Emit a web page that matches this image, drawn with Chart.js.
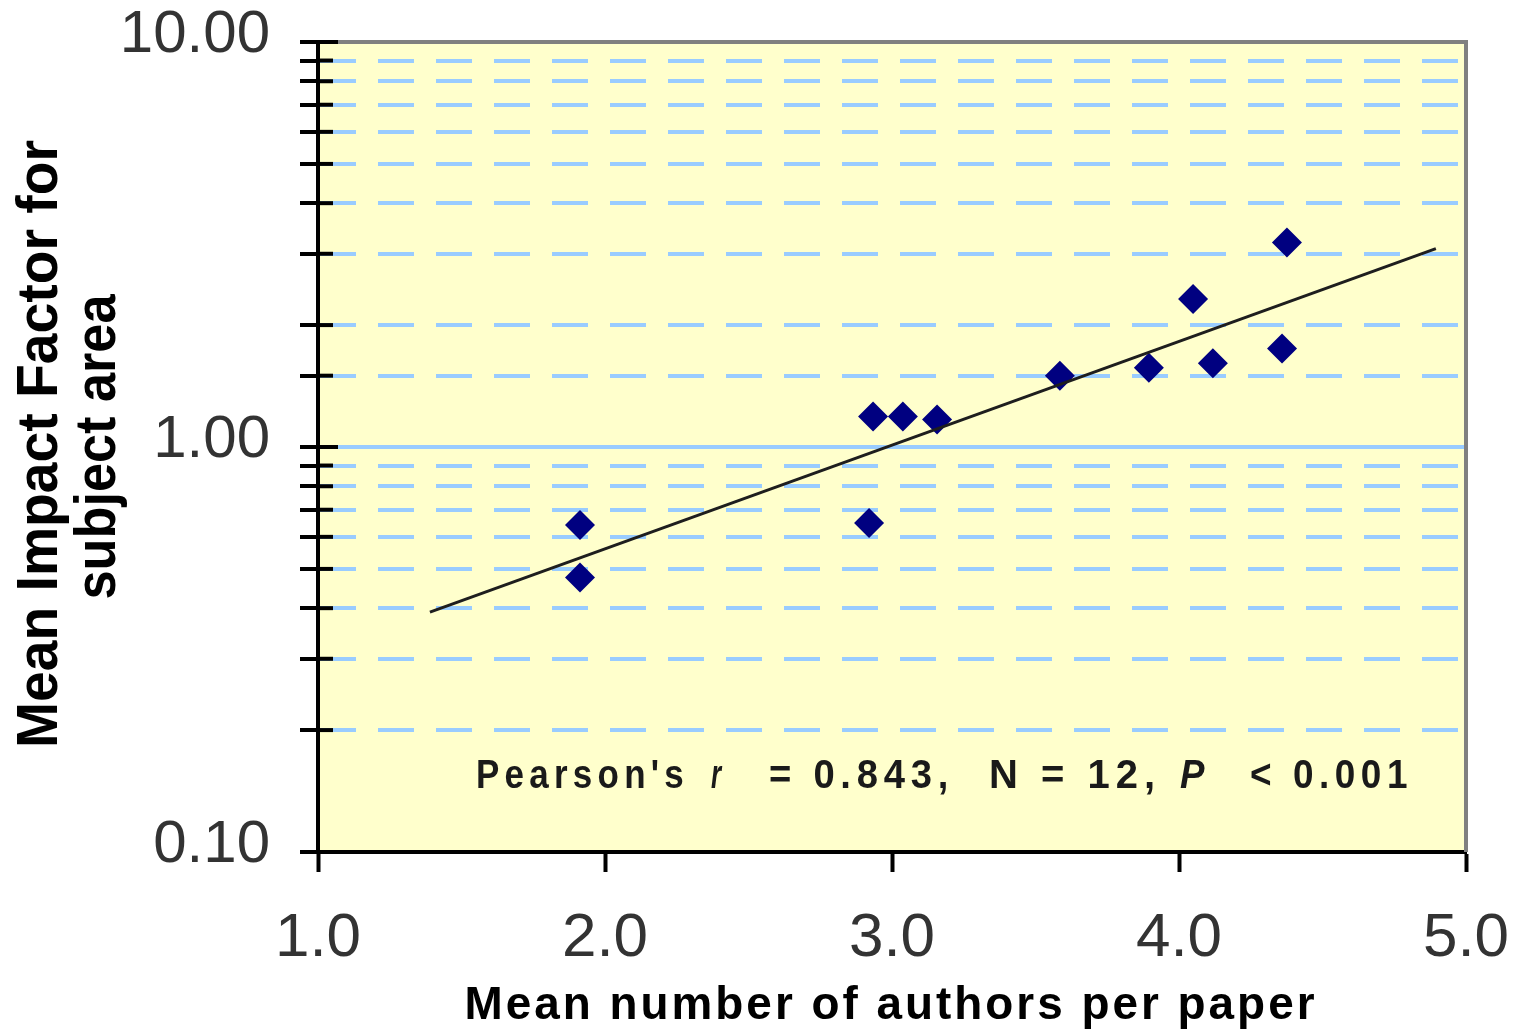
<!DOCTYPE html>
<html>
<head>
<meta charset="utf-8">
<script src="https://cdn.jsdelivr.net/npm/chart.js@4.4.1/dist/chart.umd.min.js"></script>
<style>
  html, body { margin: 0; padding: 0; background: #ffffff; }
  #wrap { width: 1520px; height: 1031px; position: relative; }
</style>
</head>
<body>
<div id="wrap"><canvas id="impactChart"></canvas></div>
<script>
// authors per paper vs mean impact factor, one point per subject area
var authorsPerPaper = [1.913, 1.913, 2.920, 2.934, 3.038, 3.157, 3.585, 3.895, 4.049, 4.118, 4.359, 4.376];
var impactFactor    = [0.642, 0.476, 0.649, 1.19, 1.19, 1.17, 1.50, 1.57, 2.32, 1.61, 1.75, 3.20];

// exponential trend line (straight on the log axis), ends as drawn
var trendX = [1.390, 4.895];
var trendY = [0.391, 3.09];

var xTicks = [1, 2, 3, 4, 5];
var yLabelled = [0.1, 1, 10];
var xTitle = "Mean number of authors per paper";
var yTitle = ["Mean Impact Factor for", "subject area"];
var statsText = ["Pearson's ", "r", "= 0.843,", "N = 12,", "P", "< 0.001"];

function isDecade(v) {
    var l = Math.log10(v);
    return Math.abs(l - Math.round(l)) < 1e-6;
}

var chartDecor = {
    id: "chartDecor",
    beforeDraw: function (chart) {
        var a = chart.chartArea, ctx = chart.ctx;
        ctx.save();
        ctx.fillStyle = "#ffffcc";
        ctx.fillRect(a.left, a.top, a.right - a.left, a.bottom - a.top);
        ctx.restore();
    },
    beforeDatasetsDraw: function (chart) {
        var a = chart.chartArea, ctx = chart.ctx, y = chart.scales.y;
        ctx.save();
        // solid line at 1.00
        var p1 = y.getPixelForValue(1);
        ctx.strokeStyle = "#99ccff";
        ctx.lineWidth = 4;
        ctx.beginPath();
        ctx.moveTo(a.left, p1);
        ctx.lineTo(a.right, p1);
        ctx.stroke();
        // grey frame top and right
        ctx.strokeStyle = "#808080";
        ctx.lineWidth = 4;
        ctx.beginPath();
        ctx.moveTo(a.left, a.top);
        ctx.lineTo(a.right, a.top);
        ctx.lineTo(a.right, a.bottom);
        ctx.stroke();
        // tick marks crossing into the plot
        ctx.strokeStyle = "#000000";
        y.ticks.forEach(function (t) {
            var py = y.getPixelForValue(t.value);
            ctx.beginPath();
            ctx.moveTo(a.left, py);
            ctx.lineTo(a.left + (isDecade(t.value) ? 20 : 15), py);
            ctx.stroke();
        });
        ctx.restore();
    },
    afterDraw: function (chart) {
        var ctx = chart.ctx;
        ctx.save();
        ctx.fillStyle = "#000000";
        ctx.textAlign = "center";
        ctx.textBaseline = "alphabetic";

        // y title, two rotated lines
        ctx.font = "bold 58px 'Liberation Sans', Arial, sans-serif";
        ctx.save();
        ctx.translate(57, 444);
        ctx.rotate(-Math.PI / 2);
        ctx.fillText(yTitle[0], 0, 0, 608);
        ctx.restore();
        ctx.save();
        ctx.translate(115, 447);
        ctx.rotate(-Math.PI / 2);
        ctx.fillText(yTitle[1], 0, 0, 305);
        ctx.restore();

        // x title
        ctx.font = "bold 46px 'Liberation Sans', Arial, sans-serif";
        ctx.letterSpacing = "3px";
        ctx.fillText(xTitle, 891, 1019, 853);

        // stats note
        ctx.textAlign = "left";
        ctx.fillStyle = "#1a1a1a";
        ctx.letterSpacing = "6px";
        var starts = [476, 711, 769, 989, 1180, 1250];
        var widths = [213, 14, 185, 183, 30, 163];
        statsText.forEach(function (s, i) {
            var italic = (i === 1 || i === 4);
            ctx.font = (italic ? "italic " : "") + "bold 40px 'Liberation Sans', Arial, sans-serif";
            ctx.fillText(s.trim(), starts[i], 788, widths[i]);
        });
        ctx.restore();
    }
};

var ctx = document.getElementById("impactChart").getContext("2d");
new Chart(ctx, {
    type: "scatter",
    data: {
        datasets: [
            {
                label: "Trend",
                data: trendX.map(function (x, i) { return { x: x, y: trendY[i] }; }),
                showLine: true,
                borderColor: "#1e1e1e",
                borderWidth: 3,
                pointRadius: 0,
                order: 0
            },
            {
                label: "Subject areas",
                data: authorsPerPaper.map(function (x, i) { return { x: x, y: impactFactor[i] }; }),
                pointStyle: "rectRot",
                pointRadius: 15,
                pointHoverRadius: 15,
                backgroundColor: "#000080",
                borderWidth: 0,
                order: 1
            }
        ]
    },
    options: {
        responsive: true,
        maintainAspectRatio: false,
        animation: false,
        layout: { padding: { top: 42, right: 54, left: 0, bottom: 0 } },
        plugins: {
            legend: { display: false },
            tooltip: { enabled: false }
        },
        scales: {
            x: {
                type: "linear",
                min: xTicks[0],
                max: xTicks[xTicks.length - 1],
                afterBuildTicks: function (scale) {
                    scale.ticks = xTicks.map(function (v) { return { value: v }; });
                },
                afterFit: function (scale) {
                    scale.height = 179;
                    scale.paddingLeft = 0;
                    scale.paddingRight = 0;
                },
                border: { display: true, color: "#000000", width: 4 },
                grid: {
                    drawOnChartArea: false,
                    drawTicks: true,
                    tickLength: 20,
                    tickColor: "#000000",
                    tickWidth: 4
                },
                ticks: {
                    padding: 30,
                    color: "#333333",
                    font: { family: "'Liberation Sans', Arial, sans-serif", size: 62 },
                    callback: function (v) { return Number(v).toFixed(1); }
                }
            },
            y: {
                type: "logarithmic",
                min: 0.1,
                max: 10,
                afterFit: function (scale) {
                    scale.width = 318;
                    scale.paddingTop = 0;
                    scale.paddingBottom = 0;
                },
                border: { display: true, color: "#000000", width: 4, dash: [36, 22] },
                grid: {
                    color: function (c) {
                        return (c.tick && isDecade(c.tick.value)) ? "rgba(0,0,0,0)" : "#99ccff";
                    },
                    lineWidth: 4,
                    tickLength: 18,
                    tickColor: "#000000",
                    tickWidth: 4
                },
                ticks: {
                    autoSkip: false,
                    padding: 30,
                    labelOffset: -7,
                    color: "#333333",
                    font: { family: "'Liberation Sans', Arial, sans-serif", size: 60 },
                    callback: function (v) {
                        return yLabelled.some(function (d) { return Math.abs(d - v) < 1e-9; }) ? Number(v).toFixed(2) : "";
                    }
                }
            }
        }
    },
    plugins: [chartDecor]
});
</script>
</body>
</html>
